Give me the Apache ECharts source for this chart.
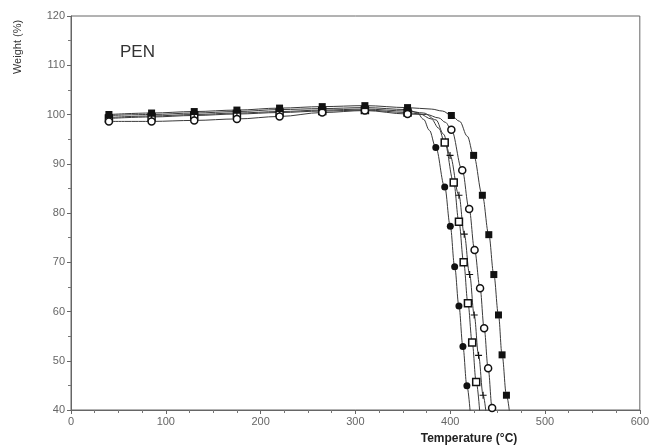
<!DOCTYPE html>
<html>
<head>
<meta charset="utf-8">
<script src="https://cdn.jsdelivr.net/npm/echarts@6/dist/echarts.min.js"></script>
<style>
  html, body { margin: 0; padding: 0; background: #fff; }
  #chart { width: 652px; height: 447px; }
</style>
</head>
<body>
<div id="chart"></div>
<script>
// plateau temperatures (°C), every sample carries a marker
var flatTemps = [40, 85, 130, 175, 220, 265, 310, 355];

// weight (%) on the plateau, one list per sample
var flatFilledSquare = [100.0, 100.3, 100.6, 100.9, 101.3, 101.6, 101.8, 101.4];
var flatFilledCircle = [99.8, 100.0, 100.3, 100.6, 101.0, 101.2, 101.4, 101.0];
var flatPlus         = [99.4, 99.7, 100.0, 100.3, 100.6, 100.9, 101.1, 100.7];
var flatOpenSquare   = [99.2, 99.5, 99.8, 100.1, 100.4, 100.7, 100.9, 100.4];
var flatOpenCircle   = [98.6, 98.6, 98.8, 99.1, 99.6, 100.4, 100.8, 100.1];

// decomposition step, marked points [T, weight]
var dropFilledCircle = [[384.8, 93.3], [394.2, 85.3], [400.1, 77.3], [404.7, 69.1], [409.2, 61.1], [413.4, 52.9], [417.6, 44.9]];
var dropOpenSquare   = [[394.2, 94.3], [403.7, 86.2], [409.2, 78.2], [414.2, 70.0], [418.7, 61.7], [423.2, 53.7], [427.4, 45.7]];
var dropPlus         = [[399.8, 91.7], [409.2, 83.6], [414.8, 75.7], [420.5, 67.5], [425.3, 59.3], [429.9, 51.1], [434.7, 43.0]];
var dropOpenCircle   = [[401.2, 96.9], [412.7, 88.7], [420.0, 80.8], [425.7, 72.5], [431.5, 64.7], [435.8, 56.6], [440.0, 48.5], [444.2, 40.4]];
var dropFilledSquare = [[401.2, 99.8], [424.7, 91.7], [433.9, 83.6], [440.7, 75.6], [446.0, 67.5], [450.9, 59.3], [454.7, 51.2], [459.3, 43.0]];

// unmarked points of the traced curves (knee and run-out below the axis)
var curveFilledCircle = [[365, 100.4], [372, 99.0], [378, 96.8], [422.5, 36]];
var curveOpenSquare   = [[368, 100.1], [380, 99.1], [388, 97.2], [432.5, 36]];
var curvePlus         = [[372, 100.3], [385, 98.9], [393, 96.0], [439.5, 36]];
var curveOpenCircle   = [[375, 100.0], [388, 99.3], [395, 98.4], [446.6, 36]];
var curveFilledSquare = [[380, 101.1], [392, 100.7], [410, 98.6], [418, 95.6], [464.5, 36]];

var xTicks = { min: 0, max: 600, interval: 100 };
var yTicks = { min: 40, max: 120, interval: 10 };

var plusPath = 'path://M-0.16,-1H0.16V-0.16H1V0.16H0.16V1H-0.16V0.16H-1V-0.16H-0.16Z';

function buildData(flat, drop, curve) {
  var pts = [];
  flatTemps.forEach(function (t, i) { pts.push({ value: [t, flat[i]] }); });
  drop.forEach(function (p) { pts.push({ value: p }); });
  curve.forEach(function (p) { pts.push({ value: p, symbol: 'none' }); });
  pts.sort(function (a, b) { return a.value[0] - b.value[0]; });
  return pts;
}

function makeSeries(name, flat, drop, curve, symbol, size, fill) {
  return {
    name: name,
    type: 'line',
    data: buildData(flat, drop, curve),
    smooth: 0.35,
    smoothMonotone: 'x',
    clip: true,
    symbol: symbol,
    symbolSize: size,
    showAllSymbol: true,
    lineStyle: { color: '#3a3a3a', width: 1 },
    itemStyle: { color: fill, borderColor: '#111', borderWidth: fill === '#fff' ? 1.5 : 0 },
    emphasis: { disabled: true },
    z: 3
  };
}

var chart = echarts.init(document.getElementById('chart'));
chart.setOption({
  backgroundColor: '#fff',
  animation: false,
  grid: { left: 71, right: 5, top: 16, bottom: 37, show: true, borderColor: '#666', borderWidth: 1 },
  xAxis: {
    type: 'value',
    min: xTicks.min, max: xTicks.max, interval: xTicks.interval,
    axisLine: { show: true, lineStyle: { color: '#666' } },
    axisTick: { show: true, length: 4, lineStyle: { color: '#666' } },
    minorTick: { show: true, splitNumber: 4, length: 3, lineStyle: { color: '#777' } },
    splitLine: { show: false },
    axisLabel: { color: '#666', fontSize: 11, fontFamily: 'Liberation Sans, Arial', margin: 6 }
  },
  yAxis: {
    type: 'value',
    min: yTicks.min, max: yTicks.max, interval: yTicks.interval,
    axisLine: { show: true, lineStyle: { color: '#666' } },
    axisTick: { show: true, length: 4, lineStyle: { color: '#666' } },
    minorTick: { show: true, splitNumber: 2, length: 3, lineStyle: { color: '#777' } },
    splitLine: { show: false },
    axisLabel: { color: '#666', fontSize: 11, fontFamily: 'Liberation Sans, Arial', margin: 6 }
  },
  graphic: [
    {
      type: 'text', left: 120, top: 44,
      style: { text: 'PEN', fontSize: 17, fontFamily: 'Liberation Sans, Arial', fill: '#333' }
    },
    {
      type: 'text', x: 469, y: 439,
      style: { text: 'Temperature (°C)', fontSize: 12, fontWeight: 'bold', fontFamily: 'Liberation Sans, Arial',
               fill: '#222', align: 'center', verticalAlign: 'middle' }
    },
    {
      type: 'text', x: 18, y: 47, rotation: Math.PI / 2,
      style: { text: 'Weight (%)', fontSize: 11, fontFamily: 'Liberation Sans, Arial',
               fill: '#333', align: 'center', verticalAlign: 'middle' }
    }
  ],
  series: [
    makeSeries('filled circle', flatFilledCircle, dropFilledCircle, curveFilledCircle, 'circle', 7, '#111'),
    makeSeries('open square', flatOpenSquare, dropOpenSquare, curveOpenSquare, 'rect', 7, '#fff'),
    makeSeries('plus', flatPlus, dropPlus, curvePlus, plusPath, 7, '#111'),
    makeSeries('open circle', flatOpenCircle, dropOpenCircle, curveOpenCircle, 'circle', 7, '#fff'),
    makeSeries('filled square', flatFilledSquare, dropFilledSquare, curveFilledSquare, 'rect', 7, '#111')
  ]
});
</script>
</body>
</html>
